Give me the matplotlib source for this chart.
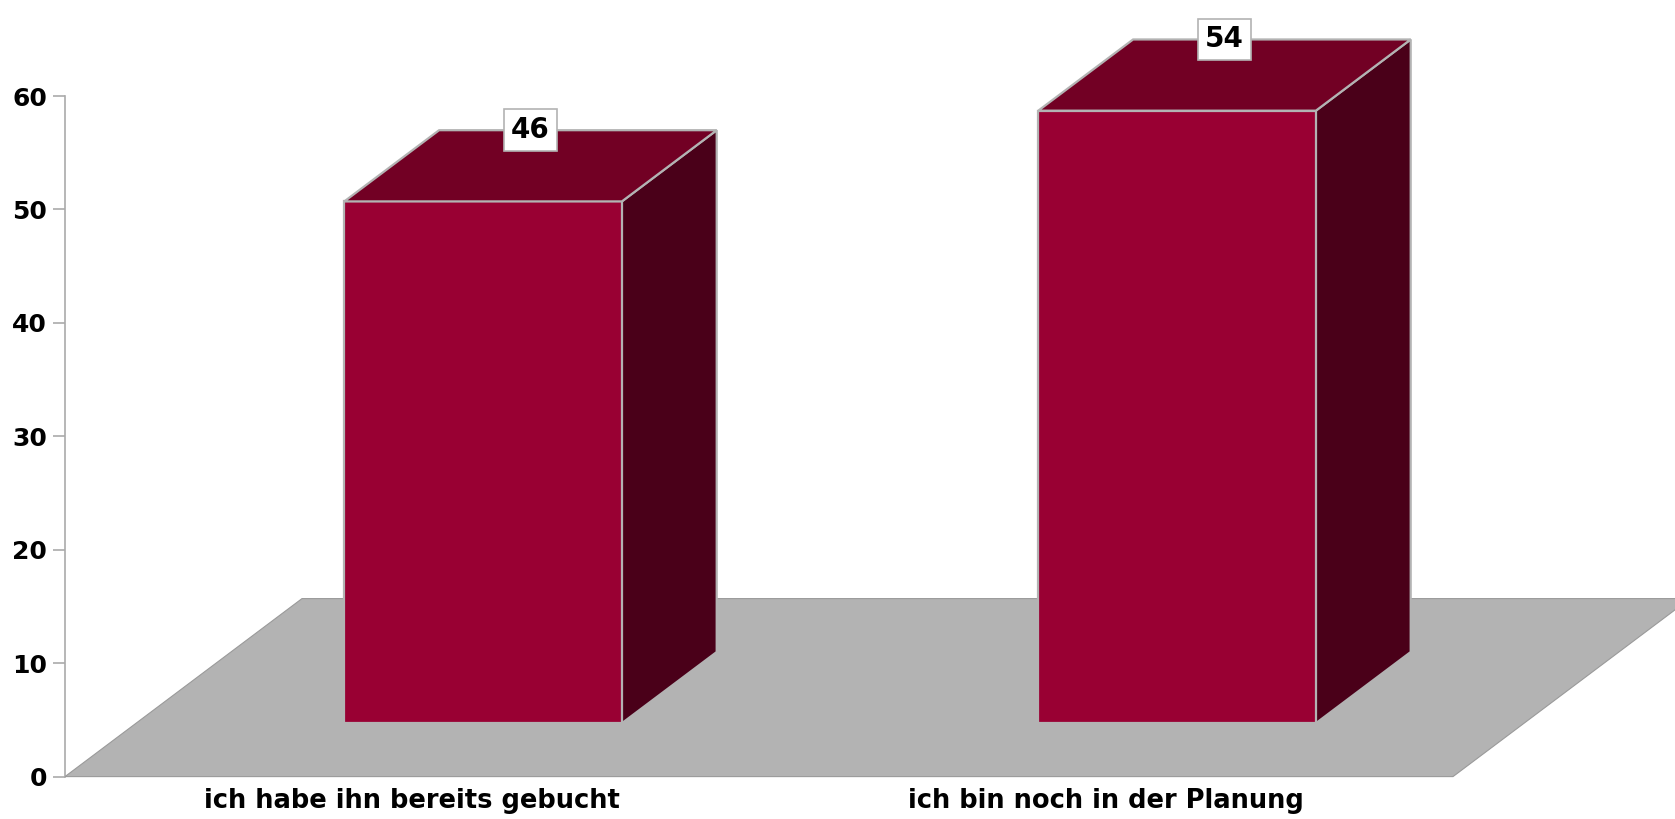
import matplotlib
matplotlib.use('Agg')
import matplotlib.pyplot as plt
from matplotlib.patches import Polygon

categories = ["ich habe ihn bereits gebucht", "ich bin noch in der Planung"]
values = [46, 54]
value_labels = ["46", "54"]
yticks = [0, 10, 20, 30, 40, 50, 60]

W, H = 1675, 819
fig = plt.figure(figsize=(W / 100, H / 100), dpi=100)
ax_left, ax_right, ax_bottom_px, ax_top_px = 65, 1453, 776.6, 96
ax = fig.add_axes([ax_left / W, (H - ax_bottom_px) / H,
                   (ax_right - ax_left) / W, (ax_bottom_px - ax_top_px) / H])
ax.set_xlim(0, len(categories))
ax.set_ylim(0, 60)

# depth vector (pixels -> data units)
px_x = (ax_right - ax_left) / len(categories)
px_y = (ax_bottom_px - ax_top_px) / 60
ddx, ddy = 237 / px_x, 178 / px_y

front_col = '#990033'
top_col = '#720024'
side_col = '#4a0019'
edge_col = '#b3b3b3'

floor = Polygon([(0, 0), (len(categories), 0), (len(categories) + ddx, ddy), (ddx, ddy)],
                closed=True, facecolor='#b3b3b3', edgecolor='#9a9a9a', lw=0.8,
                clip_on=False, zorder=1)
ax.add_patch(floor)

bw = 0.4
d0, d1 = 0.3, 0.7
for i, v in enumerate(values):
    c = i + 0.5
    ox, oy = d0 * ddx, d0 * ddy
    bdx, bdy = (d1 - d0) * ddx, (d1 - d0) * ddy
    x0, x1 = c - bw / 2 + ox, c + bw / 2 + ox
    top = oy + v
    front = Polygon([(x0, oy), (x1, oy), (x1, top), (x0, top)], closed=True,
                    facecolor=front_col, edgecolor=edge_col, lw=1.6, clip_on=False, zorder=3)
    topf = Polygon([(x0, top), (x1, top), (x1 + bdx, top + bdy), (x0 + bdx, top + bdy)], closed=True,
                   facecolor=top_col, edgecolor=edge_col, lw=1.6, clip_on=False, zorder=3)
    side = Polygon([(x1, oy), (x1 + bdx, oy + bdy), (x1 + bdx, top + bdy), (x1, top)], closed=True,
                   facecolor=side_col, edgecolor=edge_col, lw=1.6, clip_on=False, zorder=3)
    ax.add_patch(side)
    ax.add_patch(front)
    ax.add_patch(topf)
    ax.text(c + ox + bdx / 2, top + bdy, value_labels[i], ha='center', va='center',
            fontsize=20, fontweight='bold', family='DejaVu Sans', color='black', zorder=5,
            bbox=dict(boxstyle='square,pad=0.25', facecolor='white', edgecolor='#b3b3b3', lw=1.2),
            clip_on=False)

for s in ['top', 'right', 'bottom']:
    ax.spines[s].set_visible(False)
ax.spines['left'].set_color('#aaaaaa')
ax.spines['left'].set_linewidth(1.2)
ax.spines['left'].set_zorder(0)
ax.set_yticks(yticks)
ax.set_yticklabels([str(t) for t in yticks], fontsize=18, fontweight='bold', family='DejaVu Sans')
ax.tick_params(axis='y', length=9, width=1.2, color='#aaaaaa', pad=4)
ax.set_xticks([i + 0.5 for i in range(len(categories))])
ax.set_xticklabels(categories, fontsize=18.5, fontweight='bold', family='DejaVu Sans')
ax.tick_params(axis='x', length=0, pad=8)
ax.patch.set_visible(False)

fig.savefig('out.png', dpi=100, facecolor='white')
